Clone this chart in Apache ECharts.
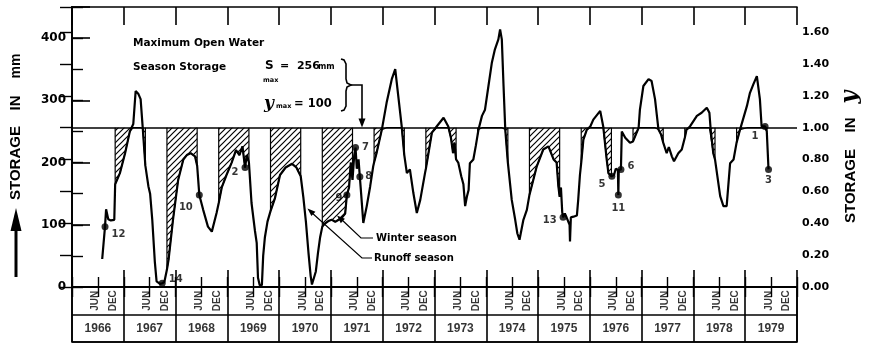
<!DOCTYPE html>
<html><head><meta charset="utf-8">
<script src="https://cdn.jsdelivr.net/npm/echarts@6/dist/echarts.min.js"></script>
<style>html,body{margin:0;padding:0;background:#fff}#c{width:872px;height:344px}</style>
</head><body><div id="c"></div>
<script>
// months counted from 1 Jan 1966
const months = [7.0,7.65,7.9,8.4,9.0,9.8,10.0,11.1,12.3,13.4,14.2,14.75,15.4,15.9,16.4,17.0,17.7,18.1,18.6,19.2,19.6,20.4,20.9,21.4,22.0,22.4,23.4,24.6,25.8,26.6,27.5,28.5,29.0,29.5,30.4,31.5,32.4,33.5,34.0,34.7,35.8,37.0,38.0,38.8,39.5,40.1,40.5,41.0,41.6,42.4,42.8,43.1,43.5,44.0,44.3,44.7,45.3,46.0,47.0,48.2,49.5,51.0,52.0,53.0,53.6,54.2,54.8,55.3,55.6,56.0,56.5,57.0,57.5,58.0,58.6,59.4,60.2,61.0,61.8,62.6,63.3,63.7,64.2,64.6,65.0,65.4,65.7,66.0,66.4,66.7,67.0,67.5,68.3,69.1,69.8,70.0,70.6,71.8,72.9,74.1,74.9,75.6,76.4,77.0,77.6,78.3,79.1,79.9,80.7,81.8,82.0,82.6,83.4,84.5,86.1,87.2,87.8,88.3,88.6,89.0,89.5,90.2,90.7,91.1,91.5,91.9,92.2,93.0,93.6,94.0,94.2,95.0,95.7,96.5,97.3,98.0,98.8,99.2,99.6,100.0,100.4,101.0,101.9,102.7,103.2,103.7,104.6,105.4,106.0,107.7,109.2,110.4,111.6,112.3,112.7,113.0,113.3,113.6,113.8,114.2,114.6,115.0,115.3,115.4,115.6,116.2,117.0,117.3,117.7,118.0,118.5,119.3,120.1,120.8,122.4,123.1,123.9,124.3,125.0,125.6,126.0,126.5,126.6,126.7,127.2,127.4,128.2,129.3,130.0,131.3,131.6,132.4,133.6,134.3,135.1,135.9,136.5,137.0,137.4,137.8,138.3,139.0,139.5,140.5,141.3,142.0,142.4,143.2,144.8,145.9,147.1,147.7,148.0,148.6,149.0,149.4,150.2,150.95,151.7,152.5,153.3,154.0,154.8,156.4,157.1,157.9,158.7,159.4,159.8,160.6,161.0,161.4];
const storageMm = [45,97,125,109,107,108,165,183,215,250,262,315,310,302,255,195,162,150,108,40,9,5,6,8,28,45,108,172,205,212,215,210,195,148,124,97,89,119,135,160,180,200,220,212,226,192,212,200,135,90,71,15,3,3,50,80,105,122,142,180,192,198,192,178,145,105,55,18,4,5,25,55,80,97,102,106,108,105,108,112,118,148,160,200,172,212,224,190,205,177,150,103,130,162,194,200,216,253,296,334,350,307,258,212,183,189,151,119,140,183,190,215,248,258,272,258,240,215,232,205,200,178,165,130,145,156,199,205,228,245,253,275,285,323,361,382,398,414,398,323,253,200,140,108,86,76,108,124,148,194,221,226,205,200,162,145,160,120,112,118,112,115,100,73,112,113,115,140,180,200,237,253,258,269,283,258,205,183,178,180,190,188,148,188,189,250,240,232,234,256,285,323,334,331,302,253,245,232,232,215,225,210,202,215,221,240,253,258,275,280,288,280,253,215,205,205,146,130,130,199,205,232,253,291,312,326,339,302,258,258,250,189];
const pointIds = [1,2,3,5,6,7,8,9,10,11,12,13,14];
const pointMonths = [160.6,40.1,161.4,125.1,127.2,65.7,66.7,63.7,29.5,126.6,7.65,113.8,20.9];
const pointValues = [258,192,189,178,189,224,177,148,148,148,97,112,6];
const years = ['1966','1967','1968','1969','1970','1971','1972','1973','1974','1975','1976','1977','1978','1979'];
const seasonLabels = ['JUN','DEC'];
const maxStorage = 256;          // S max, mm  (y = 1.00)
const leftMax = 450;

// layout / style constants
const winterStart = 10, winterEnd = 17;   // Nov 1 .. Jun 1 (months from Jan 1)
const seasonOffsets = [5.5, 9.6];
const labelStyle = {
  1:{p:'left',o:[0,10]}, 2:{p:'left',o:[0,5]}, 3:{p:'bottom',o:[0,0]}, 5:{p:'left',o:[0,8]},
  6:{p:'right',o:[0,-3]}, 7:{p:'right',o:[0,0]}, 8:{p:'right',o:[-1,0]}, 9:{p:'left',o:[2,3]},
  10:{p:'left',o:[0,12]}, 11:{p:'bottom',o:[0,2]}, 12:{p:'right',o:[0,8]}, 13:{p:'left',o:[0,3]},
  14:{p:'right',o:[0,-4]}
};

const pat = document.createElement('canvas'); pat.width = 6; pat.height = 6;
const g = pat.getContext('2d'); g.strokeStyle = '#000'; g.lineWidth = 1.2;
g.beginPath(); g.moveTo(0,6); g.lineTo(6,0); g.moveTo(-1,1); g.lineTo(1,-1); g.moveTo(5,7); g.lineTo(7,5); g.stroke();

const FONT = '"DejaVu Sans"';
const LIB = '"Liberation Sans"';
const series = [];
series.push({
  type:'line', xAxisIndex:0, yAxisIndex:0, z:3,
  data: months.map((m,i)=>[m, storageMm[i]]),
  symbol:'none', showSymbol:false, lineStyle:{color:'#000', width:2.2},
  markLine:{silent:true, symbol:'none', label:{show:false}, lineStyle:{color:'#000', width:1.6, type:'solid'}, data:[{yAxis:maxStorage}]}
});
for (let k = 0; k < years.length - 1; k++) {
  const s = winterStart + 12*k, e = winterEnd + 12*k;
  const pts = [];
  months.forEach((m,i)=>{ if (m >= s && m <= e) pts.push([m, Math.min(storageMm[i], maxStorage)]); });
  if (pts.length < 2) continue;
  series.push({
    type:'line', xAxisIndex:0, yAxisIndex:0, z:2, symbol:'none', showSymbol:false,
    data: [[pts[0][0], maxStorage], ...pts, [pts[pts.length-1][0], maxStorage]],
    lineStyle:{color:'#000', width:1.2},
    areaStyle:{origin:maxStorage, opacity:1, color:{image:pat, repeat:'repeat'}}
  });
}
series.push({
  type:'scatter', xAxisIndex:0, yAxisIndex:0, z:5, symbolSize:7,
  itemStyle:{color:'#000'},
  data: pointIds.map((id,i)=>({name:String(id), value:[pointMonths[i], pointValues[i]],
    label:{position:labelStyle[id].p, offset:labelStyle[id].o}})),
  label:{show:true, formatter:'{b}', color:'#000', fontFamily:FONT, fontWeight:'bold', fontSize:10, distance:3}
});
const seasonData = [], yearData = [];
years.forEach((y,i)=>{
  seasonLabels.forEach((s,j)=>seasonData.push({name:s, value:[i*12+seasonOffsets[j], 1.5]}));
  yearData.push({name:y, value:[i*12+6, 0.5]});
});
const hiddenSym = {symbolSize:1, itemStyle:{color:'rgba(0,0,0,0)'}, silent:true, xAxisIndex:4, yAxisIndex:3};
series.push(Object.assign({type:'scatter', data:seasonData,
  label:{show:true, position:'inside', rotate:90, formatter:'{b}', color:'#000', fontFamily:LIB, fontWeight:'bold', fontSize:10}}, hiddenSym));
series.push(Object.assign({type:'scatter', data:yearData,
  label:{show:true, position:'inside', formatter:'{b}', color:'#000', fontFamily:LIB, fontWeight:'bold', fontSize:12}}, hiddenSym));

const ax = (o)=>Object.assign({type:'value', min:0, max:168, axisLabel:{show:false}, splitLine:{show:false},
  axisLine:{show:true, lineStyle:{color:'#000', width:1.6}}}, o);

function arrowHead(tip, from, len, half){
  const dx = tip[0]-from[0], dy = tip[1]-from[1], L = Math.hypot(dx,dy), ux = dx/L, uy = dy/L;
  const bx = tip[0]-ux*len, by = tip[1]-uy*len;
  return {type:'polygon', shape:{points:[tip,[bx-uy*half, by+ux*half],[bx+uy*half, by-ux*half]]}, style:{fill:'#000'}};
}
function txt(x,y,text,font,rot){
  const e = {type:'text', x, y, style:{text, font, fill:'#000', align: rot ? 'center' : 'left', verticalAlign:'middle'}};
  if (rot) e.rotation = rot;
  return e;
}
const graphic = [
  txt(133,43,'Maximum Open Water','bold 10.5px '+FONT),
  txt(133,67,'Season Storage','bold 10.5px '+FONT),
  txt(265,66,'S','bold 12px '+FONT),
  txt(263,80,'max','bold 6.5px '+FONT),
  txt(280,66,'=  256','bold 11px '+FONT),
  txt(318,67,'mm','bold 8px '+FONT),
  txt(264,104,'y','italic bold 17px "DejaVu Serif"'),
  txt(276,106,'max','bold 6.5px '+FONT),
  txt(294,104,'= 100','bold 11.5px '+FONT),
  {type:'polyline', shape:{points:[[341,59],[344,60],[346,64],[346,79],[347,83],[351,85],[347,87],[346,91],[346,106],[344,110],[341,111]]}, style:{stroke:'#000', lineWidth:1.6, fill:null}},
  {type:'polyline', shape:{points:[[351,85],[362,85],[362,120]]}, style:{stroke:'#000', lineWidth:1.6, fill:null}},
  arrowHead([362,127.5],[362,100],9,3.5),
  txt(376,238,'Winter season','bold 10px '+FONT),
  txt(374,258,'Runoff season','bold 10px '+FONT),
  {type:'polyline', shape:{points:[[341,219],[361,238],[373,238]]}, style:{stroke:'#000', lineWidth:1.2, fill:null}},
  arrowHead([337,215.5],[361,238],8,3),
  {type:'polyline', shape:{points:[[311,212],[362,258],[372,258]]}, style:{stroke:'#000', lineWidth:1.2, fill:null}},
  arrowHead([307.5,208.5],[362,258],8,3),
  // left axis title
  txt(16,163,'STORAGE','bold 15px '+LIB,Math.PI/2),
  txt(16,103,'IN','bold 15px '+LIB,Math.PI/2),
  txt(16,66,'mm','bold 14px '+LIB,Math.PI/2),
  {type:'line', shape:{x1:16,y1:277,x2:16,y2:228}, style:{stroke:'#000', lineWidth:3}},
  {type:'polygon', shape:{points:[[16,208],[10.5,231],[21.5,231]]}, style:{fill:'#000'}},
  // right axis title
  txt(851,186,'STORAGE','bold 15px '+LIB,Math.PI/2),
  txt(851,125,'IN','bold 15px '+LIB,Math.PI/2),
  txt(850,97,'y','italic bold 22px "DejaVu Serif"',Math.PI/2)
];

const option = {
  animation:false, backgroundColor:'#fff',
  grid:[
    {left:72, right:75, top:7, bottom:57},
    {left:72, right:75, top:287, height:55, show:true, borderColor:'#000', borderWidth:1.6, backgroundColor:'transparent'}
  ],
  xAxis:[
    ax({gridIndex:0, position:'bottom', interval:6, axisTick:{show:true, inside:true, length:10, lineStyle:{color:'#000', width:1.4}}}),
    ax({gridIndex:0, position:'bottom', interval:12, axisTick:{show:true, inside:true, length:17, lineStyle:{color:'#000', width:1.6}}}),
    ax({gridIndex:0, position:'top', interval:6, axisTick:{show:true, inside:true, length:10, lineStyle:{color:'#000', width:1.4}}}),
    ax({gridIndex:0, position:'top', interval:12, axisTick:{show:true, inside:true, length:18, lineStyle:{color:'#000', width:1.6}}}),
    ax({gridIndex:1, position:'bottom', interval:12, axisLine:{show:false}, axisTick:{show:false}, splitLine:{show:true, lineStyle:{color:'#000', width:1.6}}})
  ],
  yAxis:[
    {type:'value', gridIndex:0, position:'left', min:0, max:leftMax, interval:50, splitLine:{show:false},
     axisLine:{show:true, lineStyle:{color:'#000', width:1.8}},
     axisTick:{show:true, inside:true, length:11, lineStyle:{color:'#000', width:1.4}},
     axisLabel:{show:true, margin:6, color:'#000', fontFamily:FONT, fontWeight:'bold', fontSize:12, formatter:v=>(v%100===0 && v<leftMax)?String(v):''}},
    {type:'value', gridIndex:0, position:'left', min:0, max:leftMax, interval:100, splitLine:{show:false},
     axisLine:{show:false}, axisLabel:{show:false},
     axisTick:{show:true, inside:true, length:18, lineStyle:{color:'#000', width:1.6}}},
    {type:'value', gridIndex:0, position:'right', min:0, max:leftMax/maxStorage, interval:0.2, splitLine:{show:false},
     axisLine:{show:true, lineStyle:{color:'#000', width:1.8}},
     axisTick:{show:true, inside:true, length:12, lineStyle:{color:'#000', width:1.4}},
     axisLabel:{show:true, margin:5, color:'#000', fontFamily:FONT, fontWeight:'bold', fontSize:11,
       formatter:v=>{const q=v/0.2; return Math.abs(q-Math.round(q))<1e-6 ? v.toFixed(2) : '';}}},
    {type:'value', gridIndex:1, min:0, max:2, interval:1, axisLine:{show:false}, axisTick:{show:false}, axisLabel:{show:false},
     splitLine:{show:true, lineStyle:{color:'#000', width:1.6}}}
  ],
  series, graphic
};
const chart = echarts.init(document.getElementById('c'), null, {renderer:'canvas'});
chart.setOption(option);
</script></body></html>
